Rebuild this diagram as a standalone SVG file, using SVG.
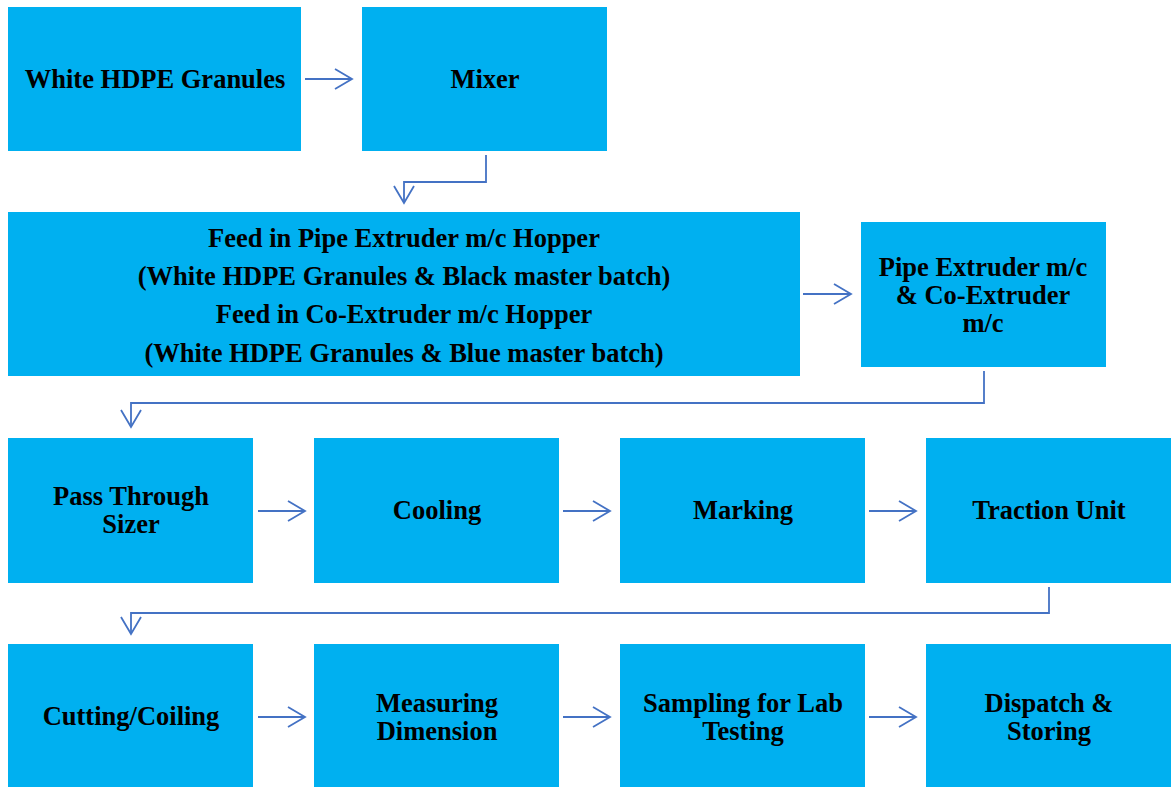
<svg xmlns="http://www.w3.org/2000/svg" width="1171" height="787" viewBox="0 0 1171 787">
<style>
.box{fill:#00B0F0}
.t{font-family:"Liberation Serif","Times New Roman",serif;font-weight:bold;font-size:26.5px;fill:#000;text-anchor:middle;dominant-baseline:central}
.c{fill:none;stroke:#4472C4;stroke-width:1.8}
</style>
<defs>
<marker id="ah" markerWidth="24" markerHeight="24" refX="18" refY="11" orient="auto" markerUnits="userSpaceOnUse">
<polyline points="1,1 18,11 1,21" fill="none" stroke="#4472C4" stroke-width="1.8"/>
</marker>
</defs>
<rect width="1171" height="787" fill="#fff"/>
<g id="n1"><rect class="box" x="8" y="7" width="293" height="144"/><text class="t" x="155" y="79">White HDPE Granules</text></g>
<g id="n2"><rect class="box" x="362" y="7" width="245" height="144"/><text class="t" x="485" y="79">Mixer</text></g>
<g id="n3"><rect class="box" x="8" y="212" width="792" height="164"/>
<text class="t" x="404" y="238">Feed in Pipe Extruder m/c Hopper</text>
<text class="t" x="404" y="276">(White HDPE Granules &amp; Black master batch)</text>
<text class="t" x="404" y="314">Feed in Co-Extruder m/c Hopper</text>
<text class="t" x="404" y="353">(White HDPE Granules &amp; Blue master batch)</text></g>
<g id="n4"><rect class="box" x="861" y="222" width="245" height="145"/>
<text class="t" x="983" y="267">Pipe Extruder m/c</text>
<text class="t" x="983" y="295">&amp; Co-Extruder</text>
<text class="t" x="983" y="323">m/c</text></g>
<g id="n5"><rect class="box" x="8" y="438" width="245" height="145"/><text class="t" x="131" y="496">Pass Through</text><text class="t" x="131" y="524">Sizer</text></g>
<g id="n6"><rect class="box" x="314" y="438" width="245" height="145"/><text class="t" x="437" y="510">Cooling</text></g>
<g id="n7"><rect class="box" x="620" y="438" width="245" height="145"/><text class="t" x="743" y="510">Marking</text></g>
<g id="n8"><rect class="box" x="926" y="438" width="245" height="145"/><text class="t" x="1049" y="510">Traction Unit</text></g>
<g id="n9"><rect class="box" x="8" y="644" width="245" height="143"/><text class="t" x="131" y="716">Cutting/Coiling</text></g>
<g id="n10"><rect class="box" x="314" y="644" width="245" height="143"/><text class="t" x="437" y="703">Measuring</text><text class="t" x="437" y="731">Dimension</text></g>
<g id="n11"><rect class="box" x="620" y="644" width="245" height="143"/><text class="t" x="743" y="703">Sampling for Lab</text><text class="t" x="743" y="731">Testing</text></g>
<g id="n12"><rect class="box" x="926" y="644" width="245" height="143"/><text class="t" x="1049" y="703">Dispatch &amp;</text><text class="t" x="1049" y="731">Storing</text></g>
<g id="connectors">
<line class="c" x1="305" y1="79" x2="352" y2="79" marker-end="url(#ah)"/>
<polyline class="c" points="486,155 486,182 404,182 404,203" marker-end="url(#ah)"/>
<line class="c" x1="803" y1="294" x2="851" y2="294" marker-end="url(#ah)"/>
<polyline class="c" points="984,371 984,403 131,403 131,427" marker-end="url(#ah)"/>
<line class="c" x1="258" y1="511" x2="305" y2="511" marker-end="url(#ah)"/>
<line class="c" x1="563" y1="511" x2="610" y2="511" marker-end="url(#ah)"/>
<line class="c" x1="869" y1="511" x2="916" y2="511" marker-end="url(#ah)"/>
<polyline class="c" points="1049,587 1049,613 131,613 131,634" marker-end="url(#ah)"/>
<line class="c" x1="258" y1="717" x2="305" y2="717" marker-end="url(#ah)"/>
<line class="c" x1="563" y1="717" x2="610" y2="717" marker-end="url(#ah)"/>
<line class="c" x1="869" y1="717" x2="916" y2="717" marker-end="url(#ah)"/>
</g>
</svg>
